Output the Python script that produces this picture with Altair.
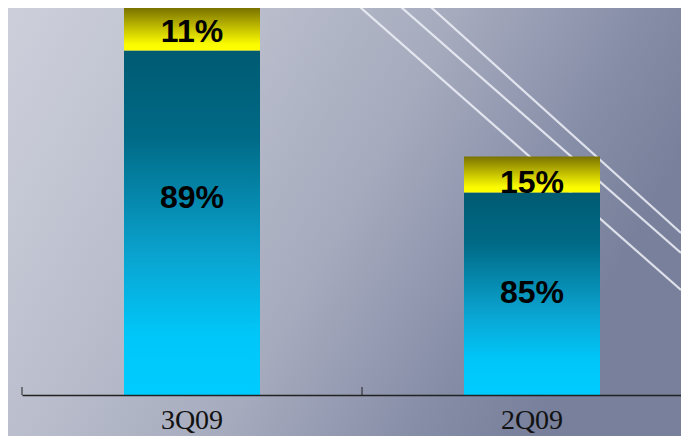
import altair as alt
import pandas as pd

quarters = ["3Q09", "2Q09"]
base_vals = [89.0, 52.3]
top_vals = [11.0, 9.3]
base_labels = ["89%", "85%"]
top_labels = ["11%", "15%"]
base_label_pos = [50.9, 26.4]
top_label_pos = [93.8, 54.8]

df = pd.DataFrame({"quarter": quarters, "base": base_vals, "top": top_vals})
df["total"] = df["base"] + df["top"]
lab = pd.DataFrame({
    "quarter": quarters * 2,
    "pos": base_label_pos + top_label_pos,
    "label": base_labels + top_labels,
})

W, H = 659, 387
PAD_LEFT, PAD_BOTTOM = 14, 41

x_scale = alt.Scale(range=[0, 680], paddingInner=0.6, paddingOuter=0.3)
x_axis = alt.Axis(orient="bottom", ticks=False, tickSize=0, zindex=2,
                  domainColor="#222222", domainWidth=1.5,
                  labelFont="Liberation Serif", labelFontSize=28,
                  labelColor="#111111", labelAngle=0, labelPadding=33,
                  labelBaseline="alphabetic", grid=False)


def x_enc(**kw):
    return alt.X("quarter:N", sort=quarters, title=None, scale=x_scale,
                 axis=x_axis, **kw)


y_scale = alt.Scale(domain=[0, 100], nice=False, zero=True)

bg_grad = alt.Gradient(
    gradient="linear", x1=0, y1=0, x2=1, y2=0.35,
    stops=[
        alt.GradientStop(offset=0, color="#cdd0db"),
        alt.GradientStop(offset=0.3, color="#bcc0ce"),
        alt.GradientStop(offset=0.6, color="#a5aabd"),
        alt.GradientStop(offset=0.85, color="#868da7"),
        alt.GradientStop(offset=1, color="#78809b"),
    ],
)
teal_grad = alt.Gradient(
    gradient="linear", x1=0, y1=0, x2=0, y2=1,
    stops=[
        alt.GradientStop(offset=0, color="#005a72"),
        alt.GradientStop(offset=0.25, color="#006a86"),
        alt.GradientStop(offset=0.6, color="#0aa4d0"),
        alt.GradientStop(offset=0.82, color="#00c6f8"),
        alt.GradientStop(offset=1, color="#00ccff"),
    ],
)
yellow_grad = alt.Gradient(
    gradient="linear", x1=0, y1=0, x2=0, y2=1,
    stops=[
        alt.GradientStop(offset=0, color="#7a7200"),
        alt.GradientStop(offset=0.5, color="#c8c400"),
        alt.GradientStop(offset=0.85, color="#fbfb00"),
        alt.GradientStop(offset=1, color="#ffff00"),
    ],
)

one = pd.DataFrame({"a": [0]})
bg = alt.Chart(one).mark_rect(color=bg_grad).encode(
    x=alt.value(-PAD_LEFT), x2=alt.value(W), y=alt.value(0), y2=alt.value(H + PAD_BOTTOM)
)

# decorative diagonal light streaks of the backdrop
streaks = [
    alt.Chart(one).mark_rule(color="#eef1f8", strokeWidth=2.2, opacity=0.85).encode(
        x=alt.value(x1), y=alt.value(-8), x2=alt.value(W), y2=alt.value(y2)
    )
    for x1, y2 in [(401, 225), (371, 245), (330, 282)]
]

base_bars = alt.Chart(df).mark_bar(color=teal_grad).encode(
    x=x_enc(), y=alt.Y("base:Q", scale=y_scale, axis=None)
)
top_bars = alt.Chart(df).mark_bar(color=yellow_grad).encode(
    x=x_enc(), y=alt.Y("total:Q", scale=y_scale, axis=None), y2="base:Q"
)
# category boundary ticks pointing upward from the baseline
ticks = alt.Chart(df).mark_rule(color="#222222", strokeWidth=1, xOffset=-102).encode(
    x=x_enc(bandPosition=0),
    y=alt.value(H - 8), y2=alt.value(H)
)
texts = alt.Chart(lab).mark_text(
    font="Liberation Sans", fontWeight="bold", fontSize=32, color="#000000",
    baseline="middle", align="center"
).encode(
    x=x_enc(), y=alt.Y("pos:Q", scale=y_scale, axis=None), text="label:N"
)

chart = alt.layer(bg, *streaks, base_bars, top_bars, ticks, texts).properties(
    width=W, height=H,
    autosize=alt.AutoSizeParams(type="none"),
    padding={"left": PAD_LEFT, "top": 0, "right": 0, "bottom": PAD_BOTTOM},
    background="#b4b8c8",
).configure_view(stroke=None)

chart.save("out.html", embed_options={"renderer": "svg", "actions": False})
